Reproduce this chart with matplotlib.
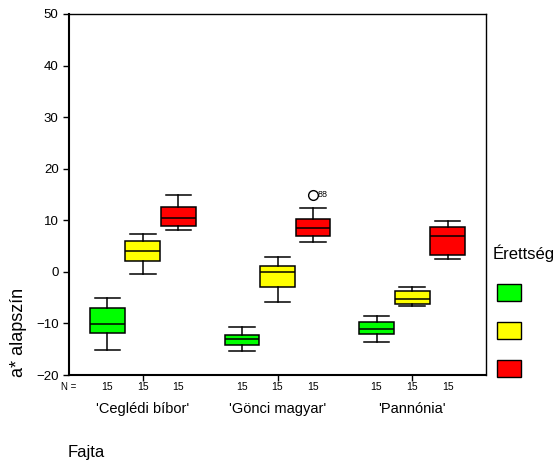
import matplotlib
matplotlib.use('Agg')
import matplotlib.pyplot as plt
from matplotlib.patches import Rectangle
from matplotlib.transforms import blended_transform_factory

plt.rcParams['font.family'] = ['Liberation Sans', 'DejaVu Sans']

# Data
fajta = ["'Ceglédi bíbor'", "'Gönci magyar'", "'Pannónia'"]
erettseg_colors = ['#00ff00', '#ffff00', '#ff0000']
n_values = [[15, 15, 15], [15, 15, 15], [15, 15, 15]]

# per group: [green, yellow, red]
whishi = [[-5.0, 7.3, 15.0], [-10.6, 2.8, 12.3], [-8.5, -2.9, 9.9]]
q3 = [[-7.0, 6.0, 12.6], [-12.2, 1.1, 10.2], [-9.7, -3.8, 8.7]]
med = [[-10.2, 4.1, 10.4], [-13.1, 0.0, 8.5], [-11.0, -5.25, 7.0]]
q1 = [[-11.9, 2.1, 8.9], [-14.1, -2.9, 7.0], [-12.1, -6.3, 3.3]]
whislo = [[-15.1, -0.4, 8.2], [-15.4, -5.8, 5.8], [-13.6, -6.7, 2.5]]
outliers = [[[], [], []], [[], [], [15.0]], [[], [], []]]
outlier_ids = {(1, 2): '88'}

W, H = 558, 463
fig = plt.figure(figsize=(W / 100, H / 100), dpi=100)
ax = fig.add_axes([69 / W, 1 - 375 / H, (486 - 69) / W, (375 - 14) / H])

offsets = [-0.264, 0.0, 0.264]
bw = 0.26
for g in range(3):
    for s in range(3):
        st = dict(med=med[g][s], q1=q1[g][s], q3=q3[g][s],
                  whislo=whislo[g][s], whishi=whishi[g][s],
                  fliers=outliers[g][s])
        pos = g + 1 + offsets[s]
        ax.bxp([st], positions=[pos], widths=bw, capwidths=[0.19],
               patch_artist=True, manage_ticks=False,
               boxprops=dict(facecolor=erettseg_colors[s], edgecolor='black', linewidth=1.1),
               medianprops=dict(color='black', linewidth=1.1),
               whiskerprops=dict(color='black', linewidth=1.1),
               capprops=dict(color='black', linewidth=1.1),
               flierprops=dict(marker='o', markersize=7, markerfacecolor='white',
                               markeredgecolor='black', markeredgewidth=1.0))
        if (g, s) in outlier_ids:
            for v in outliers[g][s]:
                ax.annotate(outlier_ids[(g, s)], (pos, v), xytext=(3, 0),
                            textcoords='offset points', fontsize=6.5, va='center')

ax.set_xlim(0.45, 3.55)
ax.set_ylim(-20, 50)
ax.set_yticks(range(-20, 51, 10))
ax.set_xticks([1, 2, 3])
ax.set_xticklabels([])
ax.tick_params(axis='y', labelsize=9.5, length=4, width=1)
ax.tick_params(axis='x', length=4, width=1)
for side in ['left', 'bottom']:
    ax.spines[side].set_linewidth(1.5)
for side in ['top', 'right']:
    ax.spines[side].set_linewidth(1.0)

# N = row and group labels
bt = blended_transform_factory(ax.transData, fig.transFigure)
fig.text(69 / W, 1 - 387 / H, 'N =', fontsize=7, ha='center', va='center')
for g in range(3):
    for s in range(3):
        ax.text(g + 1 + offsets[s], 1 - 387 / H, str(n_values[g][s]),
                transform=bt, fontsize=7.5, ha='center', va='center')
    ax.text(g + 1, 1 - 409 / H, fajta[g], transform=bt,
            fontsize=10.5, ha='center', va='center')

fig.text(68 / W, 1 - 452 / H, 'Fajta', fontsize=12, ha='left', va='center')
fig.text(19 / W, 1 - 332 / H, 'a* alapszín', fontsize=13, rotation=90,
         ha='center', va='center')

# legend
fig.text(493 / W, 1 - 253 / H, 'Érettség', fontsize=12, ha='left', va='center')
for i, c in enumerate(erettseg_colors):
    y_top = 284 + i * 38
    fig.add_artist(Rectangle((497 / W, 1 - (y_top + 17) / H), 24 / W, 17 / H,
                             transform=fig.transFigure, facecolor=c,
                             edgecolor='black', linewidth=1.0))

fig.savefig('out.png', dpi=100)
